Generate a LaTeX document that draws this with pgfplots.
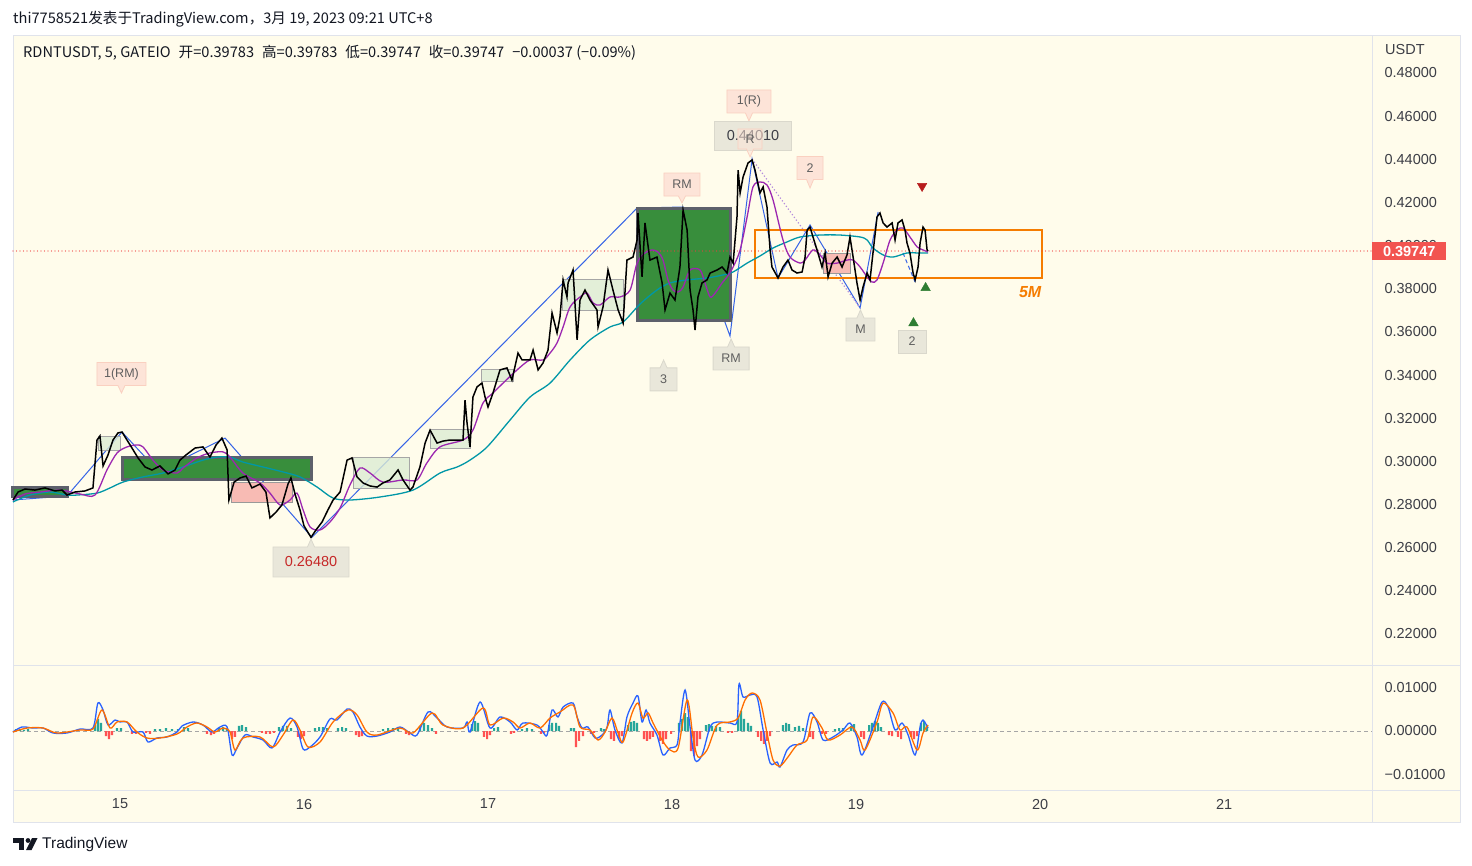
\documentclass[border=0pt]{standalone}
\usepackage{fontspec}
\usepackage{pgfplots}
\pgfplotsset{compat=1.18}
\usetikzlibrary{shapes.callouts}
\setmainfont{Liberation Sans}
\newfontfamily\cjk{Noto Sans CJK SC}
\definecolor{cream}{RGB}{255,252,235}
\definecolor{framec}{RGB}{224,227,235}
\definecolor{tvtext}{RGB}{19,23,34}
\definecolor{ticktext}{RGB}{60,62,70}
\definecolor{mapurple}{RGB}{156,39,176}
\definecolor{mateal}{RGB}{0,151,167}
\definecolor{zig}{RGB}{54,100,230}
\definecolor{dgreen}{RGB}{56,142,60}
\definecolor{dborder}{RGB}{93,96,107}
\definecolor{pinkbox}{RGB}{248,187,180}
\definecolor{lgreen}{RGB}{220,236,212}
\definecolor{orangebox}{RGB}{245,124,0}
\definecolor{pricered}{RGB}{242,84,80}
\definecolor{dotred}{RGB}{240,60,60}
\definecolor{macdblue}{RGB}{41,98,255}
\definecolor{macdorange}{RGB}{255,109,0}
\definecolor{histpos}{RGB}{38,166,154}
\definecolor{histneg}{RGB}{255,82,82}
\definecolor{callpinkf}{RGB}{253,228,216}
\definecolor{callpinkb}{RGB}{250,208,192}
\definecolor{callgrayf}{RGB}{233,231,218}
\definecolor{callgrayb}{RGB}{218,216,204}
\definecolor{calltext}{RGB}{95,95,95}
\definecolor{lowred}{RGB}{198,40,40}
\definecolor{sigred}{RGB}{183,28,28}
\definecolor{siggreen}{RGB}{46,125,50}
\definecolor{dotpurple}{RGB}{180,140,220}
\newcommand\tickfont{\fontsize{14.5bp}{16bp}\selectfont}
\newcommand\callfont{\fontsize{12.5bp}{13bp}\selectfont}
\tikzset{
  callp/.style={rectangle callout, fill=callpinkf, draw=callpinkb, line width=0.8bp, text=calltext, font=\callfont, inner sep=0pt, minimum height=23bp},
  callg/.style={rectangle callout, fill=callgrayf, draw=callgrayb, line width=0.8bp, text=calltext, font=\callfont, inner sep=0pt, minimum height=23bp},
}
\begin{document}
\begin{tikzpicture}
\fill[white] (0bp,0bp) rectangle (1472bp,-866bp);
\useasboundingbox (0bp,0bp) rectangle (1472bp,-866bp);
\fill[cream] (13bp,-35bp) rectangle (1460bp,-822bp);
\draw[framec, line width=1bp] (13bp,-35bp) rectangle (1460bp,-822bp);
\draw[framec, line width=1bp] (13bp,-665bp) -- (1460bp,-665bp);
\draw[framec, line width=1bp] (13bp,-790bp) -- (1460bp,-790bp);
\draw[framec, line width=1bp] (1372bp,-35bp) -- (1372bp,-822bp);
\node[anchor=west, text=tvtext, font=\cjk\fontsize{14.6bp}{16bp}\selectfont, inner sep=0pt] at (13bp,-19bp) {thi7758521发表于TradingView.com，3月 19, 2023 09:21 UTC+8};
\node[anchor=west, text=tvtext, font=\cjk\fontsize{14.6bp}{16bp}\selectfont, inner sep=0pt] at (23bp,-53bp) {RDNTUSDT, 5, GATEIO\hspace{8bp}开=0.39783\hspace{8bp}高=0.39783\hspace{8bp}低=0.39747\hspace{8bp}收=0.39747\hspace{8bp}−0.00037 (−0.09\%)};
\node[anchor=west, text=ticktext, font=\tickfont, inner sep=0pt] at (1385bp,-50bp) {USDT};
% TradingView logo
\fill[tvtext] (13bp,-838bp) rectangle (24bp,-842.5bp);
\fill[tvtext] (19bp,-838bp) rectangle (24bp,-850bp);
\fill[tvtext] (28bp,-840.5bp) circle (2.4bp);
\fill[tvtext] (26bp,-850bp) -- (31.5bp,-850bp) -- (37.5bp,-838bp) -- (32bp,-838bp) -- cycle;
\node[anchor=west, text=tvtext, font=\fontsize{15.5bp}{17bp}\selectfont, inner sep=0pt] at (42bp,-844bp) {TradingView};

\begin{axis}[at={(13bp,-665bp)}, anchor=south west, width=1359bp, height=630bp, scale only axis,
  xmin=14.4185, xmax=21.804, ymin=0.20563, ymax=0.49761,
  axis line style={draw=none}, major tick length=0, clip=false,
  xtick=\empty,
  ytick={0.22,0.24,0.26,0.28,0.30,0.32,0.34,0.36,0.38,0.40,0.42,0.44,0.46,0.48},
  scaled y ticks=false, yticklabel pos=right,
  yticklabel style={anchor=west, xshift=9bp, text=ticktext, font=\tickfont,
    /pgf/number format/fixed, /pgf/number format/fixed zerofill,
    /pgf/number format/precision=5, /pgf/number format/assume math mode=true},
]
% zigzag
\addplot[draw=zig, line width=1bp] coordinates {(14.418,0.2821) (14.712,0.2840) (15.011,0.3136) (15.207,0.2955) (15.571,0.3108) (16.043,0.2648) (17.810,0.4174) (18.060,0.4179) (18.315,0.3581) (18.435,0.4401) (18.576,0.3850) (18.750,0.4096) (19.022,0.3711) (19.120,0.4156)};
\addplot[draw=zig, line width=1bp, dash pattern=on 4bp off 3bp] coordinates {(19.255,0.3966) (19.321,0.3831)};
\addplot[draw=dotpurple, line width=1.2bp, dash pattern=on 1.2bp off 2.2bp] coordinates {(18.435,0.4401) (19.022,0.3711)};
% boxes
\draw[dborder, line width=3bp, fill=dgreen] (axis cs:14.418,0.2877) rectangle (axis cs:14.712,0.2835);
\draw[dborder, line width=3bp, fill=dgreen] (axis cs:15.011,0.3016) rectangle (axis cs:16.038,0.2914);
\draw[dborder, line width=3bp, fill=dgreen] (axis cs:17.810,0.4170) rectangle (axis cs:18.315,0.3651);
\draw[gray!80, line width=0.8bp, fill=pinkbox] (axis cs:15.603,0.2904) rectangle (axis cs:15.935,0.2812);
\draw[gray!80, line width=0.8bp, fill=pinkbox] (axis cs:18.821,0.3966) rectangle (axis cs:18.967,0.3873);
\draw[gray!70, line width=0.8bp, fill=lgreen, fill opacity=0.8] (axis cs:14.880,0.3118) rectangle (axis cs:15.000,0.3053);
\draw[gray!70, line width=0.8bp, fill=lgreen, fill opacity=0.8] (axis cs:16.266,0.3020) rectangle (axis cs:16.571,0.2877);
\draw[gray!70, line width=0.8bp, fill=lgreen, fill opacity=0.8] (axis cs:16.685,0.3150) rectangle (axis cs:16.902,0.3062);
\draw[gray!70, line width=0.8bp, fill=lgreen, fill opacity=0.8] (axis cs:16.962,0.3428) rectangle (axis cs:17.136,0.3373);
\draw[gray!70, line width=0.8bp, fill=lgreen, fill opacity=0.8] (axis cs:17.402,0.3845) rectangle (axis cs:17.734,0.3702);
\draw[orangebox, line width=2.2bp] (axis cs:18.451,0.4072) rectangle (axis cs:20.011,0.3850);
% current price line
\addplot[color=dotred, line width=1.3bp, line cap=round, dash pattern=on 0bp off 3.5bp] coordinates {(14.4185,0.39747) (21.804,0.39747)};
% teal MA
\addplot[draw=mateal, line width=1.3bp, smooth] coordinates {(14.418,0.2812) (14.511,0.2844) (14.620,0.2858) (14.712,0.2844) (14.766,0.2844) (14.875,0.2853) (14.946,0.2877) (15.016,0.2904) (15.125,0.2928) (15.234,0.2946) (15.342,0.2974) (15.451,0.3006) (15.527,0.3020) (15.598,0.3020) (15.668,0.2997) (15.777,0.2974) (15.886,0.2951) (15.978,0.2928) (16.071,0.2881) (16.158,0.2830) (16.250,0.2821) (16.413,0.2835) (16.592,0.2867) (16.739,0.2946) (16.832,0.2974) (16.902,0.3006) (16.995,0.3067) (17.120,0.3192) (17.228,0.3298) (17.337,0.3363) (17.446,0.3470) (17.554,0.3563) (17.663,0.3623) (17.734,0.3646) (17.826,0.3729) (17.918,0.3794) (17.989,0.3827) (18.082,0.3841) (18.190,0.3850) (18.277,0.3864) (18.332,0.3878) (18.408,0.3919) (18.478,0.3952) (18.549,0.3989) (18.625,0.4017) (18.696,0.4040) (18.804,0.4049) (18.913,0.4049) (19.022,0.4040) (19.060,0.4026) (19.092,0.3989) (19.147,0.3957) (19.201,0.3947) (19.277,0.3966) (19.332,0.3966) (19.391,0.3966)};
% purple MA
\addplot[draw=mapurple, line width=1.3bp, smooth] coordinates {(14.418,0.2821) (14.484,0.2849) (14.565,0.2858) (14.674,0.2867) (14.783,0.2849) (14.864,0.2844) (14.929,0.2960) (14.984,0.3039) (15.038,0.3067) (15.092,0.3076) (15.125,0.3067) (15.179,0.3006) (15.234,0.2960) (15.310,0.2946) (15.342,0.2969) (15.418,0.3016) (15.489,0.3039) (15.560,0.3044) (15.598,0.3020) (15.668,0.2946) (15.761,0.2900) (15.815,0.2853) (15.870,0.2798) (15.924,0.2821) (15.962,0.2853) (15.995,0.2775) (16.033,0.2696) (16.087,0.2682) (16.141,0.2719) (16.196,0.2784) (16.250,0.2891) (16.304,0.2969) (16.359,0.2946) (16.429,0.2904) (16.538,0.2914) (16.614,0.2914) (16.668,0.2993) (16.739,0.3067) (16.864,0.3099) (16.918,0.3145) (16.973,0.3271) (17.027,0.3317) (17.082,0.3363) (17.158,0.3424) (17.228,0.3470) (17.299,0.3470) (17.337,0.3502) (17.375,0.3549) (17.408,0.3623) (17.446,0.3716) (17.500,0.3762) (17.538,0.3780) (17.571,0.3734) (17.609,0.3725) (17.663,0.3762) (17.717,0.3762) (17.772,0.3794) (17.810,0.3919) (17.853,0.3966) (17.891,0.3980) (17.924,0.3970) (17.951,0.3933) (17.978,0.3841) (18.005,0.3794) (18.033,0.3785) (18.060,0.3808) (18.098,0.3887) (18.152,0.3887) (18.179,0.3827) (18.207,0.3762) (18.234,0.3780) (18.272,0.3827) (18.299,0.3855) (18.332,0.3901) (18.370,0.3980) (18.408,0.4133) (18.440,0.4272) (18.478,0.4295) (18.516,0.4281) (18.549,0.4211) (18.603,0.4026) (18.641,0.3947) (18.696,0.3919) (18.723,0.3933) (18.766,0.3980) (18.804,0.3957) (18.842,0.3919) (18.897,0.3919) (18.951,0.3933) (18.984,0.3933) (19.022,0.3901) (19.060,0.3855) (19.087,0.3831) (19.114,0.3841) (19.147,0.3919) (19.185,0.4026) (19.223,0.4072) (19.255,0.4082) (19.293,0.4040) (19.332,0.3994) (19.364,0.3980) (19.391,0.3970)};
% price
\addplot[draw=black, line width=1.5bp] coordinates {(14.418,0.2821) (14.446,0.2858) (14.484,0.2872) (14.538,0.2867) (14.592,0.2877) (14.647,0.2863) (14.685,0.2867) (14.712,0.2844) (14.755,0.2858) (14.810,0.2863) (14.853,0.2877) (14.875,0.3099) (14.891,0.3118) (14.908,0.2979) (14.935,0.3030) (14.962,0.3099) (14.989,0.3132) (15.011,0.3136) (15.038,0.3099) (15.065,0.3062) (15.098,0.3016) (15.136,0.2974) (15.174,0.2960) (15.217,0.2979) (15.261,0.2942) (15.299,0.2960) (15.326,0.3006) (15.359,0.3030) (15.408,0.3062) (15.451,0.3067) (15.489,0.3020) (15.522,0.3076) (15.554,0.3108) (15.582,0.3053) (15.592,0.2821) (15.620,0.2904) (15.652,0.2923) (15.685,0.2932) (15.717,0.2877) (15.761,0.2895) (15.793,0.2858) (15.815,0.2738) (15.848,0.2765) (15.880,0.2798) (15.913,0.2895) (15.929,0.2923) (15.951,0.2849) (15.978,0.2775) (16.000,0.2701) (16.038,0.2648) (16.065,0.2682) (16.098,0.2719) (16.130,0.2775) (16.158,0.2821) (16.196,0.2858) (16.234,0.3006) (16.261,0.3016) (16.288,0.2928) (16.321,0.2900) (16.359,0.2886) (16.397,0.2881) (16.429,0.2900) (16.467,0.2914) (16.511,0.2960) (16.538,0.2914) (16.576,0.2867) (16.592,0.2881) (16.630,0.2974) (16.658,0.3085) (16.685,0.3145) (16.723,0.3085) (16.755,0.3094) (16.793,0.3099) (16.832,0.3099) (16.864,0.3099) (16.875,0.3284) (16.886,0.3178) (16.902,0.3067) (16.918,0.3298) (16.940,0.3345) (16.967,0.3363) (16.984,0.3298) (17.000,0.3252) (17.027,0.3317) (17.065,0.3424) (17.103,0.3433) (17.130,0.3377) (17.163,0.3502) (17.185,0.3470) (17.228,0.3470) (17.245,0.3516) (17.272,0.3424) (17.299,0.3456) (17.326,0.3516) (17.348,0.3688) (17.375,0.3595) (17.391,0.3669) (17.408,0.3841) (17.429,0.3762) (17.435,0.3827) (17.462,0.3887) (17.484,0.3563) (17.500,0.3748) (17.527,0.3794) (17.554,0.3748) (17.592,0.3702) (17.598,0.3623) (17.625,0.3716) (17.652,0.3887) (17.679,0.3794) (17.707,0.3702) (17.734,0.3641) (17.755,0.3933) (17.788,0.3947) (17.810,0.4026) (17.815,0.4151) (17.837,0.3855) (17.853,0.4105) (17.880,0.3933) (17.918,0.3947) (17.946,0.3827) (17.962,0.3702) (17.989,0.3780) (18.016,0.3748) (18.043,0.3901) (18.060,0.4165) (18.082,0.4072) (18.098,0.3794) (18.114,0.3702) (18.125,0.3609) (18.141,0.3762) (18.163,0.3827) (18.190,0.3841) (18.207,0.3873) (18.245,0.3887) (18.272,0.3901) (18.299,0.3873) (18.315,0.3947) (18.332,0.3919) (18.353,0.4133) (18.359,0.4350) (18.370,0.4244) (18.386,0.4318) (18.413,0.4383) (18.435,0.4397) (18.451,0.4350) (18.478,0.4244) (18.495,0.4272) (18.516,0.4179) (18.533,0.3980) (18.543,0.3901) (18.576,0.3850) (18.603,0.3901) (18.630,0.3933) (18.652,0.3887) (18.679,0.3873) (18.707,0.3878) (18.723,0.3947) (18.734,0.4072) (18.750,0.4086) (18.766,0.4040) (18.793,0.3966) (18.815,0.3901) (18.832,0.3966) (18.848,0.3855) (18.870,0.3919) (18.897,0.3947) (18.924,0.3901) (18.951,0.3957) (18.967,0.4040) (18.984,0.3947) (19.005,0.3827) (19.022,0.3748) (19.038,0.3808) (19.060,0.3873) (19.076,0.3841) (19.092,0.3966) (19.114,0.4133) (19.130,0.4151) (19.147,0.4105) (19.168,0.4086) (19.196,0.4105) (19.212,0.4026) (19.228,0.4105) (19.250,0.4119) (19.266,0.4072) (19.277,0.4012) (19.293,0.3966) (19.310,0.3873) (19.321,0.3841) (19.337,0.3901) (19.348,0.4012) (19.364,0.4086) (19.375,0.4072) (19.386,0.3980) (19.391,0.3975)};
% signal triangles
\addplot[only marks, mark=triangle*, mark size=5.5bp, mark options={rotate=180, fill=sigred, draw=sigred}] coordinates {(19.359,0.4276)};
\addplot[only marks, mark=triangle*, mark size=5.5bp, mark options={fill=siggreen, draw=siggreen}] coordinates {(19.378,0.3804) (19.312,0.3641)};
% callouts
\node[callp, minimum width=49bp, callout absolute pointer={(axis cs:15.008,0.3317)}] at (axis cs:15.008,0.3405) {1(RM)};
\node[callg, minimum width=76bp, minimum height=30bp, text=lowred, font=\fontsize{14.5bp}{16bp}\selectfont, callout absolute pointer={(axis cs:16.038,0.2640)}] at (axis cs:16.038,0.2534) {0.26480};
\node[callp, minimum width=36bp, callout absolute pointer={(axis cs:18.054,0.4198)}] at (axis cs:18.054,0.4283) {RM};
\node[callp, minimum width=44bp, callout absolute pointer={(axis cs:18.418,0.4578)}] at (axis cs:18.418,0.4668) {1(R)};
\node[rectangle, fill=callgrayf, draw=callgrayb, line width=0.8bp, minimum width=77bp, minimum height=29bp, inner sep=0pt, text=ticktext, font=\fontsize{14.5bp}{16bp}\selectfont] at (axis cs:18.440,0.4510) {0.44010};
\node[callp, minimum width=24bp, minimum height=20bp, fill opacity=0.55, text opacity=1, callout absolute pointer={(axis cs:18.424,0.4411)}] at (axis cs:18.424,0.4494) {R};
\node[callp, minimum width=26bp, callout absolute pointer={(axis cs:18.750,0.4267)}] at (axis cs:18.750,0.4360) {2};
\node[callg, minimum width=27bp, callout absolute pointer={(axis cs:17.954,0.3470)}] at (axis cs:17.954,0.3380) {3};
\node[callg, minimum width=36bp, callout absolute pointer={(axis cs:18.321,0.3567)}] at (axis cs:18.321,0.3477) {RM};
\node[callg, minimum width=29bp, callout absolute pointer={(axis cs:19.024,0.3702)}] at (axis cs:19.024,0.3611) {M};
\node[rectangle, fill=callgrayf, draw=callgrayb, line width=0.8bp, minimum width=28bp, minimum height=23bp, inner sep=0pt, text=calltext, font=\callfont] at (axis cs:19.304,0.3556) {2};
\node[text=orangebox, font=\fontsize{16bp}{18bp}\selectfont\bfseries\itshape, inner sep=0pt] at (axis cs:19.946,0.3785) {5M};
% price label
\node[anchor=west, fill=pricered, text=white, font=\fontsize{14.5bp}{16bp}\selectfont\bfseries, minimum width=74bp, minimum height=18bp, inner sep=0pt] at (axis cs:21.804,0.39747) {0.39747};
\end{axis}

\begin{axis}[at={(13bp,-790bp)}, anchor=south west, width=1359bp, height=125bp, scale only axis,
  xmin=14.4185, xmax=21.804, ymin=-0.01341, ymax=0.015,
  axis line style={draw=none}, major tick length=0, clip=false,
  xtick={15,16,17,18,19,20,21}, xticklabels={15,16,17,18,19,20,21},
  xticklabel style={anchor=center, yshift=-14bp, text=ticktext, font=\tickfont},
  scaled y ticks=false, scaled x ticks=false,
  ytick={-0.01,0,0.01}, yticklabels={−0.01000,0.00000,0.01000},
  yticklabel pos=right,
  yticklabel style={anchor=west, xshift=9bp, text=ticktext, font=\tickfont},
]
\addplot[draw=gray!70, line width=0.8bp, dash pattern=on 4bp off 3bp] coordinates {(14.4185,0) (21.804,0)};
\addplot[ybar, bar width=2.2bp, bar shift=0pt, fill=histpos, draw=none] coordinates {(14.435,0.00045) (14.457,0.00045) (14.478,0.00023) (14.500,0.00045) (14.864,0.00136) (14.880,0.00273) (14.897,0.00182) (14.984,0.00068) (15.005,0.00068) (15.190,0.00045) (15.217,0.00045) (15.250,0.00068) (15.283,0.00045) (15.315,0.00045) (15.348,0.00091) (15.370,0.00068) (15.538,0.00068) (15.560,0.00091) (15.582,0.00068) (15.647,0.00114) (15.663,0.00136) (15.685,0.00091) (15.864,0.00091) (15.886,0.00114) (15.908,0.00114) (15.929,0.00068) (16.060,0.00068) (16.082,0.00091) (16.103,0.00091) (16.125,0.00068) (16.185,0.00068) (16.207,0.00091) (16.228,0.00068) (16.429,0.00045) (16.457,0.00068) (16.484,0.00068) (16.511,0.00045) (16.630,0.00114) (16.652,0.00182) (16.674,0.00136) (16.696,0.00068) (16.913,0.00159) (16.929,0.00227) (16.946,0.00182) (17.033,0.00068) (17.054,0.00091) (17.185,0.00045) (17.212,0.00068) (17.239,0.00045) (17.332,0.00136) (17.348,0.00182) (17.370,0.00182) (17.386,0.00114) (17.451,0.00068) (17.467,0.00068) (17.614,0.00068) (17.630,0.00045) (17.761,0.00136) (17.777,0.00205) (17.793,0.00227) (17.810,0.00182) (18.038,0.00182) (18.054,0.00273) (18.071,0.00409) (18.087,0.00318) (18.185,0.00136) (18.201,0.00159) (18.217,0.00114) (18.239,0.00114) (18.261,0.00091) (18.359,0.00341) (18.375,0.00455) (18.391,0.00273) (18.413,0.00182) (18.429,0.00114) (18.603,0.00136) (18.620,0.00182) (18.636,0.00159) (18.668,0.00091) (18.690,0.00114) (18.712,0.00068) (18.886,0.00045) (18.908,0.00068) (18.929,0.00068) (18.973,0.00114) (18.989,0.00159) (19.071,0.00136) (19.087,0.00182) (19.103,0.00227) (19.120,0.00182) (19.136,0.00091) (19.353,0.00182) (19.370,0.00227) (19.386,0.00136)};
\addplot[ybar, bar width=2.2bp, bar shift=0pt, fill=histneg, draw=none] coordinates {(14.924,-0.00114) (14.940,-0.00182) (14.957,-0.00091) (15.065,-0.00068) (15.087,-0.00068) (15.141,-0.00045) (15.163,-0.00068) (15.473,-0.00068) (15.495,-0.00091) (15.511,-0.00068) (15.609,-0.00182) (15.625,-0.00136) (15.772,-0.00045) (15.793,-0.00068) (15.815,-0.00068) (15.837,-0.00045) (15.967,-0.00136) (15.984,-0.00182) (16.000,-0.00114) (16.283,-0.00091) (16.299,-0.00136) (16.315,-0.00114) (16.554,-0.00068) (16.571,-0.00091) (16.717,-0.00068) (16.978,-0.00136) (16.995,-0.00182) (17.011,-0.00091) (17.125,-0.00068) (17.141,-0.00045) (17.288,-0.00068) (17.304,-0.00045) (17.478,-0.00364) (17.495,-0.00227) (17.516,-0.00114) (17.560,-0.00068) (17.576,-0.00045) (17.668,-0.00182) (17.685,-0.00227) (17.712,-0.00182) (17.728,-0.00114) (17.848,-0.00182) (17.864,-0.00227) (17.880,-0.00182) (17.897,-0.00136) (17.935,-0.00227) (17.951,-0.00295) (17.967,-0.00182) (17.995,-0.00068) (18.103,-0.00455) (18.120,-0.00568) (18.136,-0.00341) (18.152,-0.00182) (18.304,-0.00045) (18.326,-0.00045) (18.467,-0.00136) (18.484,-0.00227) (18.500,-0.00295) (18.516,-0.00227) (18.533,-0.00114) (18.750,-0.00136) (18.766,-0.00182) (18.815,-0.00068) (18.837,-0.00068) (19.027,-0.00136) (19.043,-0.00182) (19.179,-0.00091) (19.196,-0.00114) (19.228,-0.00136) (19.245,-0.00182) (19.299,-0.00136) (19.315,-0.00182) (19.332,-0.00114)};
\addplot[draw=macdblue, line width=1.3bp, smooth] coordinates {(14.418,-0.00023) (14.467,0.00091) (14.527,0.00068) (14.582,0.00068) (14.636,-0.00045) (14.712,-0.00045) (14.783,0.00045) (14.853,0.00068) (14.880,0.00636) (14.908,0.00477) (14.935,0.00136) (14.973,0.0025) (15.000,0.00205) (15.038,0.00205) (15.071,-0.00023) (15.125,-0.00023) (15.152,-0.0025) (15.201,-0.00159) (15.255,-0.00136) (15.310,-0.00023) (15.337,0.00114) (15.397,0.00205) (15.451,0.00136) (15.500,-0.00023) (15.543,0.00091) (15.582,0.00091) (15.609,-0.00545) (15.636,-0.00386) (15.679,-0.00091) (15.723,-0.00136) (15.777,-0.00205) (15.826,-0.00386) (15.870,-0.00023) (15.924,0.00295) (15.962,0.00091) (15.995,-0.00409) (16.033,-0.00364) (16.087,-0.00136) (16.141,0.00273) (16.179,0.0025) (16.234,0.005) (16.266,0.00432) (16.304,0.00091) (16.342,-0.00114) (16.397,-0.00114) (16.467,-0.00023) (16.522,0.00091) (16.576,-0.00045) (16.614,-0.00091) (16.674,0.00432) (16.723,0.00295) (16.777,0.00091) (16.864,0.00068) (16.886,0.00205) (16.902,-0.00023) (16.957,0.00659) (17.011,0.00068) (17.065,0.00318) (17.120,0.00205) (17.158,0.00023) (17.190,0.00182) (17.266,0.00136) (17.299,-0.00023) (17.321,-0.00091) (17.348,0.00477) (17.380,0.00318) (17.408,0.00545) (17.462,0.00636) (17.484,0.00318) (17.511,0.00068) (17.543,0.00091) (17.582,-0.00159) (17.620,-0.00091) (17.647,0.00091) (17.663,0.00477) (17.690,0.00023) (17.728,-0.00273) (17.755,0.00318) (17.788,0.00636) (17.815,0.00795) (17.837,0.00205) (17.859,0.00477) (17.880,0.00182) (17.918,-0.00091) (17.951,-0.00545) (17.989,-0.00386) (18.027,-0.00318) (18.043,0.00182) (18.071,0.00932) (18.098,0.00091) (18.125,-0.00659) (18.163,-0.00545) (18.207,0.00091) (18.245,0.00205) (18.315,0.00182) (18.353,0.00205) (18.364,0.01068) (18.386,0.00773) (18.424,0.00818) (18.462,0.00773) (18.495,0.00023) (18.533,-0.00727) (18.571,-0.00705) (18.587,-0.00818) (18.625,-0.00432) (18.658,-0.00318) (18.712,-0.0025) (18.750,0.00409) (18.788,0.00205) (18.821,-0.00205) (18.875,-0.00136) (18.929,0.00023) (18.967,0.00182) (19.005,-0.00136) (19.033,-0.00545) (19.092,0.00091) (19.141,0.00659) (19.174,0.00545) (19.212,0.00023) (19.250,0.00182) (19.283,-0.00091) (19.321,-0.00545) (19.348,0.00091) (19.364,0.0025) (19.391,0.00068)};
\addplot[draw=macdorange, line width=1.3bp, smooth] coordinates {(14.418,-0.00023) (14.495,0.00068) (14.582,0.00068) (14.658,-0.00045) (14.783,0.00023) (14.853,0.00045) (14.902,0.00477) (14.946,0.00068) (14.984,0.00205) (15.038,0.00205) (15.092,-0.00023) (15.147,-0.00159) (15.217,-0.00159) (15.310,-0.00068) (15.364,0.00091) (15.418,0.00182) (15.473,0.00091) (15.516,-0.00023) (15.560,0.00068) (15.598,-0.00023) (15.625,-0.00432) (15.668,-0.00159) (15.761,-0.00136) (15.832,-0.00364) (15.886,-0.00091) (15.940,0.0025) (15.978,0.00023) (16.022,-0.00364) (16.087,-0.0025) (16.158,0.00205) (16.239,0.00477) (16.288,0.00364) (16.342,-0.00023) (16.397,-0.00091) (16.522,0.00068) (16.592,-0.00045) (16.696,0.00409) (16.755,0.00136) (16.864,0.00068) (16.973,0.00523) (17.011,0.00136) (17.082,0.00295) (17.136,0.00205) (17.174,0.00068) (17.228,0.00182) (17.283,0.00068) (17.337,0.00295) (17.391,0.00432) (17.462,0.00591) (17.500,0.00091) (17.554,0.00023) (17.598,-0.00205) (17.636,-0.00023) (17.674,0.00295) (17.707,-0.00045) (17.734,-0.0025) (17.783,0.00409) (17.815,0.00636) (17.842,0.00295) (17.870,0.00409) (17.897,0.00182) (17.946,-0.00205) (17.989,-0.00432) (18.033,-0.00386) (18.082,0.00705) (18.114,-0.00136) (18.141,-0.00591) (18.190,-0.00432) (18.245,0.00136) (18.315,0.00205) (18.359,0.00295) (18.397,0.00705) (18.435,0.00864) (18.478,0.00705) (18.516,-0.00045) (18.549,-0.00659) (18.587,-0.00795) (18.630,-0.00591) (18.679,-0.00318) (18.734,-0.00205) (18.766,0.00318) (18.815,0.00068) (18.848,-0.00205) (18.913,-0.00091) (18.978,0.00091) (19.022,-0.00205) (19.049,-0.00432) (19.114,0.00205) (19.147,0.00636) (19.201,0.00409) (19.239,0.00023) (19.277,0.00091) (19.332,-0.00432) (19.364,-0.00045) (19.391,0.00136)};
\end{axis}
\end{tikzpicture}
\end{document}
